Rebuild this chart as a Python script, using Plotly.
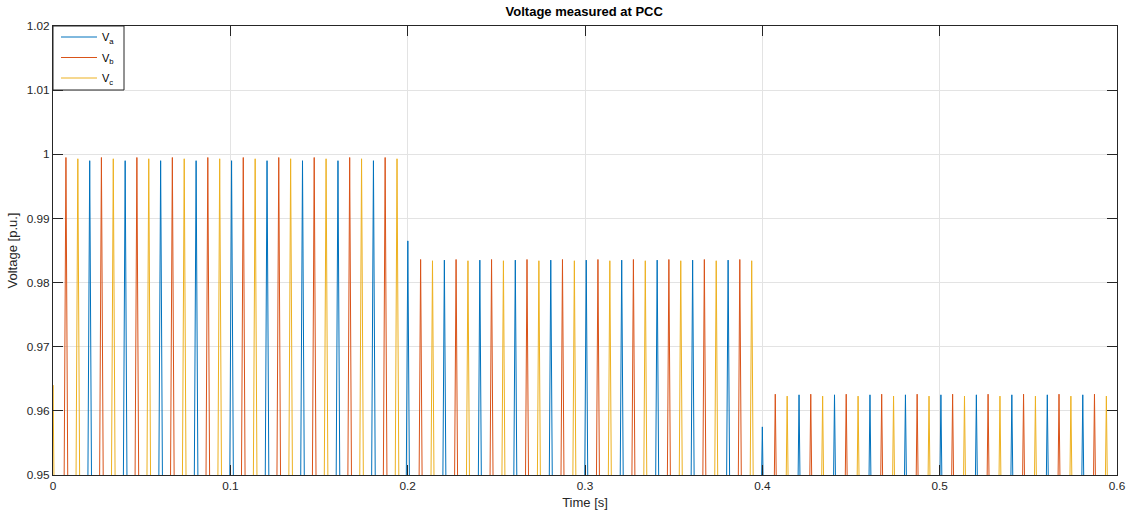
import math
import plotly.graph_objects as go

# ---------------- data (peaks) ----------------
# Phase a (blue): peak times [s] and peak values [p.u.]
va_t = [0.0207, 0.0407, 0.0607, 0.0807, 0.1007, 0.1207, 0.1407, 0.1607, 0.1807,
        0.2001,
        0.2207, 0.2407, 0.2607, 0.2807, 0.3007, 0.3207, 0.3407, 0.3607, 0.3807,
        0.4000,
        0.4207, 0.4407, 0.4607, 0.4807, 0.5007, 0.5207, 0.5407, 0.5607, 0.5807]
va_v = [0.9990, 0.9990, 0.9990, 0.9990, 0.9990, 0.9990, 0.9990, 0.9990, 0.9990,
        0.9865,
        0.9835, 0.9835, 0.9835, 0.9835, 0.9835, 0.9835, 0.9835, 0.9835, 0.9835,
        0.9575,
        0.9625, 0.9625, 0.9625, 0.9625, 0.9625, 0.9625, 0.9625, 0.9625, 0.9625]

# Phase b (orange)
vb_t = [0.0073, 0.0273, 0.0473, 0.0673, 0.0873, 0.1073, 0.1273, 0.1473, 0.1673, 0.1873,
        0.2073, 0.2273, 0.2473, 0.2673, 0.2873, 0.3073, 0.3273, 0.3473, 0.3673, 0.3873,
        0.4073, 0.4273, 0.4473, 0.4673, 0.4873, 0.5073, 0.5273, 0.5473, 0.5673, 0.5873]
vb_v = [0.9995, 0.9995, 0.9995, 0.9995, 0.9995, 0.9995, 0.9995, 0.9995, 0.9995, 0.9995,
        0.9836, 0.9836, 0.9836, 0.9836, 0.9836, 0.9836, 0.9836, 0.9836, 0.9836, 0.9836,
        0.9626, 0.9626, 0.9626, 0.9626, 0.9626, 0.9626, 0.9626, 0.9626, 0.9626, 0.9626]

# Phase c (yellow) - includes the partial value at t = 0
vc_t = [0.0000,
        0.0140, 0.0340, 0.0540, 0.0740, 0.0940, 0.1140, 0.1340, 0.1540, 0.1740, 0.1940,
        0.2140, 0.2340, 0.2540, 0.2740, 0.2940, 0.3140, 0.3340, 0.3540, 0.3740, 0.3940,
        0.4140, 0.4340, 0.4540, 0.4740, 0.4940, 0.5140, 0.5340, 0.5540, 0.5740, 0.5940]
vc_v = [0.9640,
        0.9993, 0.9993, 0.9993, 0.9993, 0.9993, 0.9993, 0.9993, 0.9993, 0.9993, 0.9993,
        0.9834, 0.9834, 0.9834, 0.9834, 0.9834, 0.9834, 0.9834, 0.9834, 0.9834, 0.9834,
        0.9623, 0.9623, 0.9623, 0.9623, 0.9623, 0.9623, 0.9623, 0.9623, 0.9623, 0.9623]

phase_names = ["V<sub>a</sub>", "V<sub>b</sub>", "V<sub>c</sub>"]
phase_colors = ["#0072BD", "#D95319", "#EDB120"]

x_tickvals = [0, 0.1, 0.2, 0.3, 0.4, 0.5, 0.6]
x_ticktext = ["0", "0.1", "0.2", "0.3", "0.4", "0.5", "0.6"]
y_tickvals = [0.95, 0.96, 0.97, 0.98, 0.99, 1.00, 1.01, 1.02]
y_ticktext = ["0.95", "0.96", "0.97", "0.98", "0.99", "1", "1.01", "1.02"]

Y_MIN, Y_MAX = 0.95, 1.02
F_HZ = 50.0  # grid frequency, sets the width of each visible crest


def crest_path(times, peaks):
    """Visible part of each sine crest above the lower axis limit."""
    xs, ys = [], []
    for t, p in zip(times, peaks):
        hw = math.acos(min(1.0, Y_MIN / p)) / (2 * math.pi * F_HZ)
        xs += [t - hw, t, t + hw, None]
        ys += [Y_MIN, p, Y_MIN, None]
    return xs, ys


fig = go.Figure()
for i, ((tt, vv), name, col) in enumerate(zip([(va_t, va_v), (vb_t, vb_v), (vc_t, vc_v)],
                                              phase_names, phase_colors)):
    xs, ys = crest_path(tt, vv)
    fig.add_trace(go.Scatter(x=xs, y=ys, mode="lines", name=name,
                             legendgroup="g%d" % i,
                             line=dict(color=col, width=1), connectgaps=False,
                             hoverinfo="skip"))

axis_col = "#262626"
grid_col = "#e3e3e3"
font_fam = "Liberation Sans, Arial, sans-serif"

PLOT_W = 1129 - 53 - 12
PLOT_H = 513 - 26 - 38

fig.update_layout(
    template="none",
    width=1129, height=513,
    margin=dict(l=53, r=12, t=26, b=38, autoexpand=False),
    paper_bgcolor="white", plot_bgcolor="white",
    font=dict(family=font_fam, size=11.8, color=axis_col),
    title=dict(text="<b>Voltage measured at PCC</b>", x=0.5175, xanchor="center",
               y=0.978, yanchor="middle", font=dict(size=13, color="#000000")),
    showlegend=True,
    legend=dict(x=3 / PLOT_W, y=1 + 3.5 / PLOT_H, xanchor="left", yanchor="top",
                bgcolor="rgba(0,0,0,0)", borderwidth=0,
                font=dict(size=11, color="#000000"),
                tracegroupgap=1.5, itemwidth=36),
    shapes=[dict(type="rect", xref="paper", yref="paper", layer="above",
                 x0=0, x1=71 / PLOT_W, y0=1 - 64 / PLOT_H, y1=1,
                 fillcolor="white", line=dict(color=axis_col, width=1))],
)
fig.update_xaxes(range=[0, 0.6], tickvals=x_tickvals, ticktext=x_ticktext,
                 automargin=False,
                 showgrid=True, gridcolor=grid_col, gridwidth=1, zeroline=False,
                 showline=True, linecolor=axis_col, linewidth=1, mirror="ticks",
                 ticks="inside", ticklen=10, tickcolor=axis_col, tickwidth=1,
                 title=dict(text="Time [s]", standoff=5, font=dict(size=13)))
fig.update_yaxes(range=[Y_MIN, Y_MAX], tickvals=y_tickvals, ticktext=y_ticktext,
                 automargin=False,
                 showgrid=True, gridcolor=grid_col, gridwidth=1, zeroline=False,
                 showline=True, linecolor=axis_col, linewidth=1, mirror="ticks",
                 ticks="inside", ticklen=10, tickcolor=axis_col, tickwidth=1,
                 title=dict(text="Voltage [p.u.]", standoff=6, font=dict(size=13)))

fig.write_html("out.html")
